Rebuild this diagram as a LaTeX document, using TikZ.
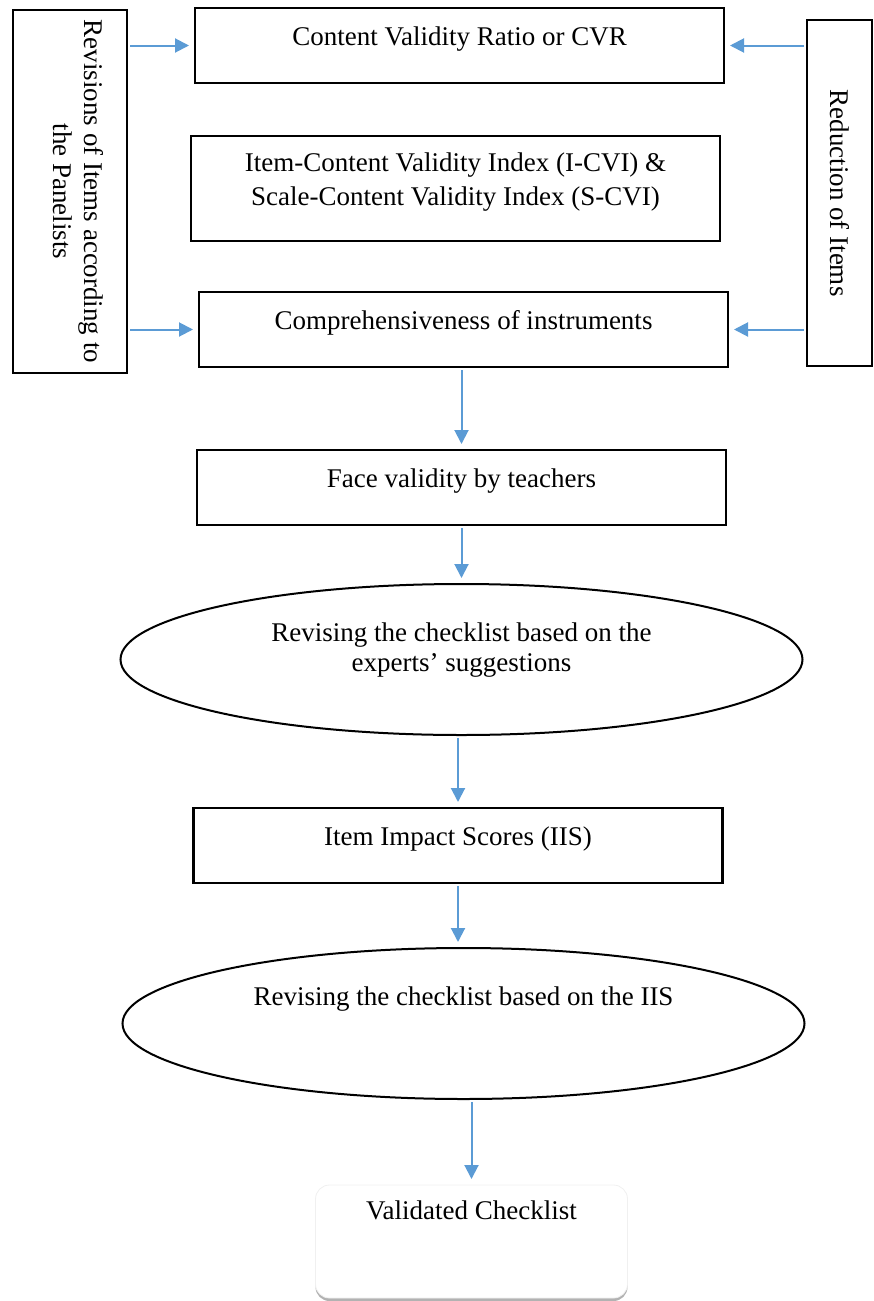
\documentclass[tikz,border=0pt]{standalone}
\usepackage{fontspec}
\setmainfont{Liberation Serif}
\usepackage{tikz}
\usetikzlibrary{arrows.meta,positioning,shapes.geometric,shadows}
\definecolor{inkblack}{RGB}{0,0,0}
\definecolor{arrowblue}{RGB}{91,155,213}

\begin{document}
\begin{tikzpicture}[
  x=0.5pt, y=-0.5pt, outer sep=0pt,
  box/.style={draw=inkblack, line width=1.2pt, rectangle, minimum width=264.5pt, minimum height=37.5pt, align=center, font=\fontsize{13.5}{15}\selectfont, text height=9pt, text depth=9.5pt},
  oval/.style={draw=inkblack, line width=1pt, ellipse, minimum width=341pt, minimum height=75.5pt, align=center, font=\fontsize{13.5}{15}\selectfont, text height=9pt, text depth=27.5pt},
  side/.style={draw=inkblack, line width=1.2pt, rectangle, rotate=-90, align=center, font=\fontsize{13.5}{15.5}\selectfont},
  arr/.style={-{Triangle[length=7pt, width=7pt]}, line width=1pt, draw=arrowblue, color=arrowblue, shorten <=1.5pt, shorten >=3pt}
]
\useasboundingbox (0,0) rectangle (873,1301);
\node[box] (n1) at (459.5,45.5) {Content Validity Ratio or CVR};
\node[box, below=26.5pt of n1, xshift=-2pt, minimum height=52.5pt, font=\fontsize{13.5}{17}\selectfont, text height=26pt, text depth=9.5pt] (n2) {Item-Content Validity Index (I-CVI) \&\\Scale-Content Validity Index (S-CVI)};
\node[box, below=25.5pt of n2, xshift=4pt] (n3) {Comprehensiveness of instruments};
\node[box, below=41.5pt of n3, xshift=-1pt] (n4) {Face validity by teachers};
\node[oval, below=29.5pt of n4, text height=24pt, text depth=12.5pt] (n5) {Revising the checklist based on the\\experts’ suggestions};
\node[box, below=36.5pt of n5, xshift=-1.75pt] (n6) {Item Impact Scores (IIS)};
\node[oval, below=32.5pt of n6, xshift=2.75pt] (n7) {Revising the checklist based on the IIS};
\node[rectangle, draw=gray!12, fill=white, rounded corners=7pt, minimum width=156pt, minimum height=56.5pt, font=\fontsize{13.5}{15}\selectfont, text height=9pt, text depth=31.5pt, drop shadow={shadow xshift=0pt, shadow yshift=-1.5pt, fill=gray!60, opacity=1}, below=43pt of n7, xshift=4pt] (n8) {Validated Checklist};
\node[side, minimum width=181.5pt, minimum height=57pt, text height=24.5pt, text depth=8pt] (lbox) at (70,191.5) {Revisions of Items according to\\the Panelists};
\node[side, minimum width=173pt, minimum height=32.5pt] (rbox) at (839.5,193) {Reduction of Items};
\draw[arr] (lbox.north |- n1) -- (n1); \draw[arr] (lbox.north |- n3) -- (n3);
\draw[arr] (rbox.south |- n1) -- (n1); \draw[arr] (rbox.south |- n3) -- (n3);
\draw[arr] (n3.south -| n4) -- (n4); \draw[arr] (n4.south) -- (n4.south |- n5.north);
\draw[arr] (n5.south -| n6) -- (n6); \draw[arr] (n6.south) -- (n6.south |- n7.north);
\draw[arr] (n7.south -| n8) -- (n8);
\end{tikzpicture}
\end{document}
